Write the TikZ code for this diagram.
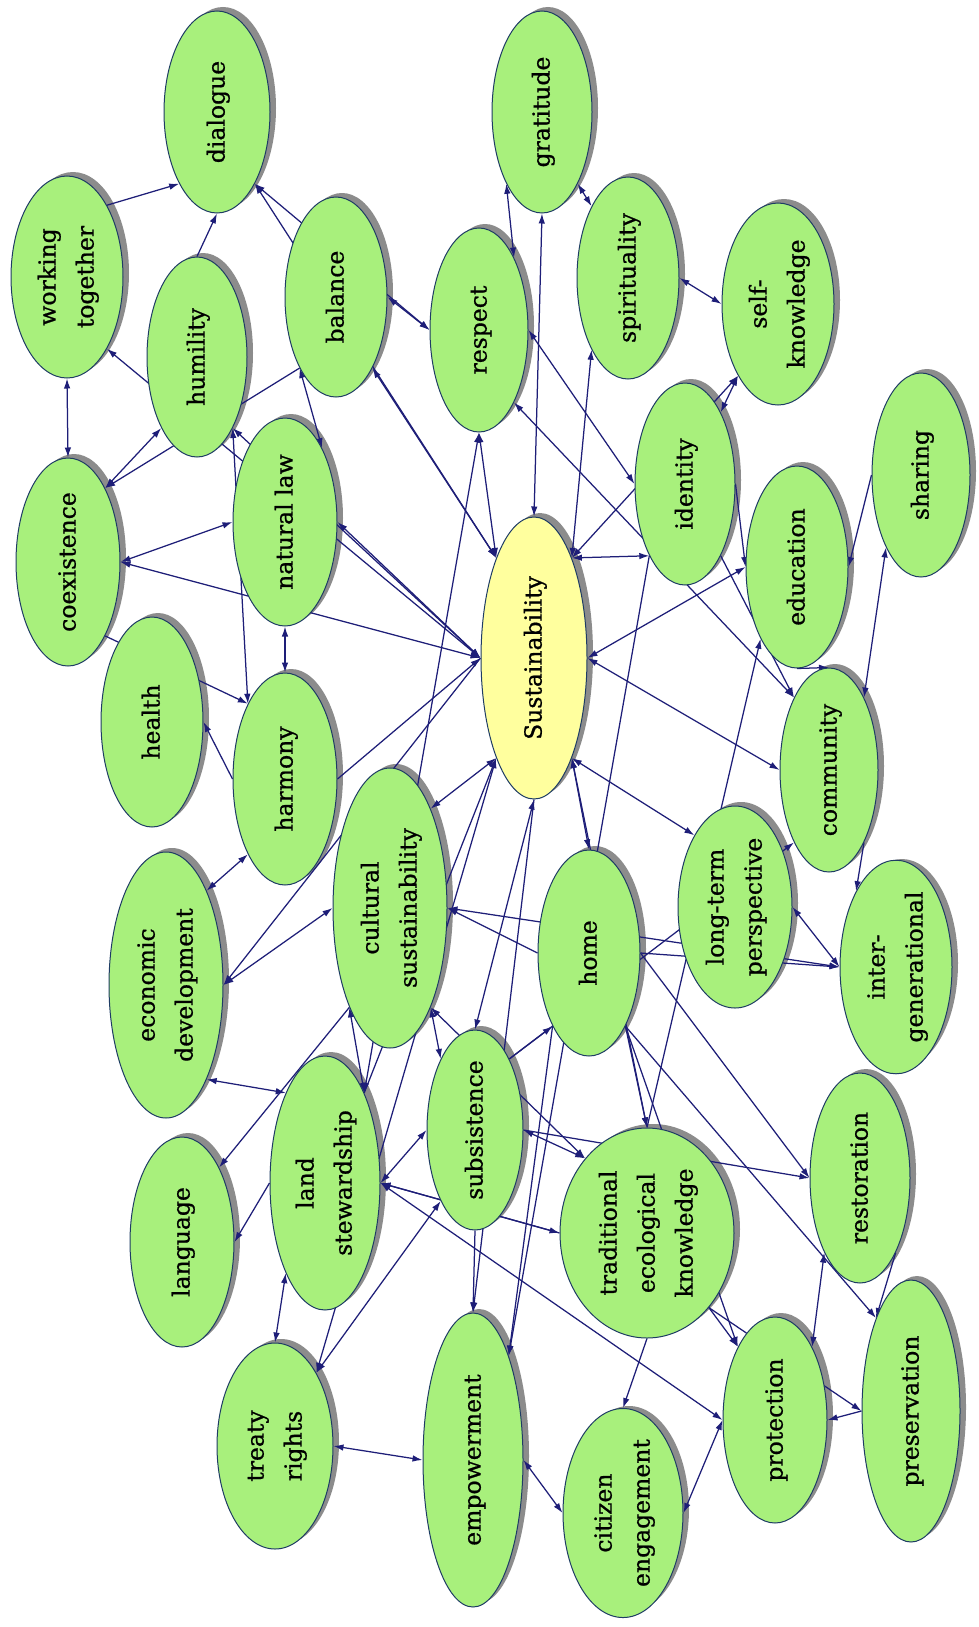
\documentclass[tikz,border=0pt]{standalone}
\usepackage{fontspec}
\setmainfont{DejaVu Serif}[RawFeature={embolden=0.8}]
\usepackage{graphicx}
\usetikzlibrary{shapes.geometric,arrows.meta}
\pgfdeclarelayer{background}
\pgfsetlayers{background,main}

\definecolor{leafgreen}{HTML}{A8F07C}
\definecolor{coreyellow}{HTML}{FFFF9E}
\definecolor{rimblue}{HTML}{1E3C64}
\definecolor{edgeblue}{HTML}{1E1E78}
\definecolor{shadowgray}{HTML}{8C8C8C}

\tikzset{
  bubble/.style={ellipse, draw=rimblue, line width=1pt, fill=leafgreen,
    inner sep=0pt, text=black, font=\fontsize{23.5}{38}\selectfont},
  leaf/.style={},
  core/.style={fill=coreyellow},
  link/.style={draw=edgeblue, line width=1.25pt},
}

% concept bubble: [style]{name}{x}{y}{x radius}{y radius}{label}
\newcommand\cnode[7][leaf]{%
  \expandafter\def\csname nx@#2\endcsname{#3}%
  \expandafter\def\csname ny@#2\endcsname{-#4}%
  \expandafter\def\csname nrx@#2\endcsname{#5}%
  \expandafter\def\csname nry@#2\endcsname{#6}%
  \begin{pgfonlayer}{background}
    \fill[shadowgray] (#3+6,-#4+4) ellipse [x radius=#5, y radius=#6];
  \end{pgfonlayer}
  \node[bubble,#1,minimum width=2*#5,minimum height=2*#6] (#2) at (#3,-#4)
    {\rotatebox{90}{\begin{tabular}{@{}c@{}}#7\end{tabular}}};
}

% compass anchor of #1 that faces #2
\newcommand\pickanc[2]{%
  \pgfmathsetmacro\pkdx{((\csname nx@#2\endcsname)-(\csname nx@#1\endcsname))/(\csname nrx@#1\endcsname)}%
  \pgfmathsetmacro\pkdy{((\csname ny@#2\endcsname)-(\csname ny@#1\endcsname))/(\csname nry@#1\endcsname)}%
  \pgfmathtruncatemacro\pkk{mod(round(atan2(\pkdy,\pkdx)/45)+8,8)}%
  \edef\pickedanchor{\ifcase\pkk east\or north east\or north\or north west\or west\or south west\or south\or south east\fi}%
}

% connector between two bubbles
\newcommand\conn[3]{%
  \pickanc{#1}{#2}\let\ancfrom\pickedanchor
  \pickanc{#2}{#1}\let\ancto\pickedanchor
  \edef\doconn{\noexpand\draw[link,#3] (#1.\ancfrom) -- (#2.\ancto);}%
  \doconn
}

\begin{document}
\begin{tikzpicture}[x=1pt,y=1pt,>={Latex[length=10pt,width=6.5pt]}]
\useasboundingbox (0,0) rectangle (979,-1627);
\begin{pgfonlayer}{background}
  \fill[white] (0,0) rectangle (979,-1627);
\end{pgfonlayer}

\cnode{dia}{217}{112}{53}{101}{dialogue}
\cnode{wt}{67}{277}{56}{101}{working\\together}
\cnode{hum}{197}{357}{50}{100}{humility}
\cnode{bal}{336}{297}{51}{100}{balance}
\cnode{res}{479}{330}{49}{102}{respect}
\cnode{gra}{542}{112}{50}{101}{gratitude}
\cnode{spi}{628}{278}{51}{101}{spirituality}
\cnode{sk}{778}{304}{56}{101}{self-\\knowledge}
\cnode{ide}{685}{484}{50}{101}{identity}
\cnode{edu}{797}{567}{51}{101}{education}
\cnode{sha}{921}{475}{49}{102}{sharing}
\cnode[core]{sus}{534}{658}{53}{141}{Sustainability}
\cnode{com}{829}{770}{49}{102}{community}
\cnode{ltp}{735}{907}{57}{101}{long-term\\perspective}
\cnode{ig}{896}{967}{56}{104}{inter-\\generational}
\cnode{home}{589}{953}{51}{103}{home}
\cnode{sub}{475}{1130}{48}{100}{subsistence}
\cnode{cs}{390}{908}{57}{140}{cultural\\sustainability}
\cnode{har}{285}{779}{52}{106}{harmony}
\cnode{hea}{152}{722}{51}{105}{health}
\cnode{coe}{68}{562}{52}{104}{coexistence}
\cnode{nl}{285}{522}{52}{104}{natural law}
\cnode{ed}{166}{985}{57}{133}{economic\\development}
\cnode{lan}{182}{1242}{52}{105}{language}
\cnode{ls}{325}{1183}{55}{127}{land\\stewardship}
\cnode{tr}{275}{1446}{58}{103}{treaty\\rights}
\cnode{emp}{473}{1460}{50}{147}{empowerment}
\cnode{tek}{647}{1233}{87}{105}{traditional\\ecological\\knowledge}
\cnode{ce}{623}{1513}{60}{103}{citizen\\engagement}
\cnode{pro}{775}{1420}{52}{103}{protection}
\cnode{pre}{911}{1411}{49}{131}{preservation}
\cnode{rst}{860}{1178}{50}{105}{restoration}

\begin{pgfonlayer}{background}
% upper group
\conn{wt}{dia}{->}
\conn{dia}{res}{<->}
\conn{hum}{dia}{->}
\conn{dia}{sus}{<->}
\conn{bal}{res}{<->}
\conn{gra}{res}{<->}
\conn{gra}{spi}{<->}
\conn{gra}{sus}{<->}
\conn{spi}{sk}{<->}
\conn{sk}{ide}{<->}
\conn{sk}{sus}{<->}
\conn{spi}{sus}{<->}
\conn{res}{sus}{<->}
\conn{res}{ide}{<->}
\conn{res}{com}{<->}
\conn{res}{ls}{<->}
% left group
\conn{wt}{coe}{<->}
\conn{coe}{hum}{<->}
\conn{bal}{coe}{->}
\conn{coe}{nl}{<->}
\conn{coe}{sus}{<->}
\conn{coe}{har}{->}
\conn{wt}{sus}{<->}
\conn{bal}{nl}{<->}
\conn{hum}{har}{<->}
\conn{nl}{har}{<->}
\conn{nl}{sus}{<->}
\conn{hum}{sus}{<->}
\conn{bal}{sus}{<->}
\conn{har}{hea}{->}
\conn{har}{sus}{->}
\conn{har}{ed}{<->}
\conn{sus}{ed}{->}
% middle group
\conn{cs}{sus}{<->}
\conn{ed}{cs}{<->}
\conn{ed}{ls}{<->}
\conn{ls}{cs}{<->}
\conn{ls}{sub}{<->}
\conn{tek}{ls}{->}
\conn{cs}{sub}{<->}
\conn{sub}{tek}{<->}
\conn{sub}{emp}{->}
\conn{ls}{tek}{<->}
\conn{sub}{tr}{<->}
\conn{sus}{tr}{<->}
\conn{ls}{tr}{<->}
\conn{ls}{pro}{<->}
\conn{tr}{emp}{<->}
\conn{cs}{lan}{->}
\conn{ls}{lan}{->}
\conn{cs}{tek}{<->}
\conn{home}{cs}{->}
\conn{cs}{ig}{<->}
% lower group
\conn{emp}{ce}{<->}
\conn{ce}{pro}{<->}
\conn{tek}{ce}{->}
\conn{tek}{pro}{->}
\conn{tek}{pre}{->}
\conn{rst}{pro}{<->}
\conn{rst}{pre}{->}
\conn{pre}{pro}{->}
\conn{sub}{rst}{->}
\conn{home}{rst}{->}
\conn{home}{pre}{->}
\conn{home}{pro}{->}
\conn{home}{tek}{->}
\conn{home}{ig}{->}
\conn{sus}{home}{<->}
\conn{sub}{home}{->}
\conn{sub}{sus}{<->}
\conn{tek}{sus}{<->}
\conn{ls}{sus}{->}
\conn{sus}{emp}{->}
\conn{home}{emp}{->}
\conn{ide}{emp}{->}
% right group
\conn{sub}{com}{->}
\conn{tek}{edu}{->}
\conn{sus}{ltp}{<->}
\conn{ltp}{ig}{<->}
\conn{com}{ig}{->}
\conn{sus}{com}{<->}
\conn{ide}{com}{->}
\conn{edu}{com}{->}
\conn{sha}{edu}{->}
\conn{sha}{com}{<->}
\conn{ide}{sus}{<->}
\conn{sus}{edu}{<->}
\conn{ide}{edu}{->}
\end{pgfonlayer}
\end{tikzpicture}
\end{document}
